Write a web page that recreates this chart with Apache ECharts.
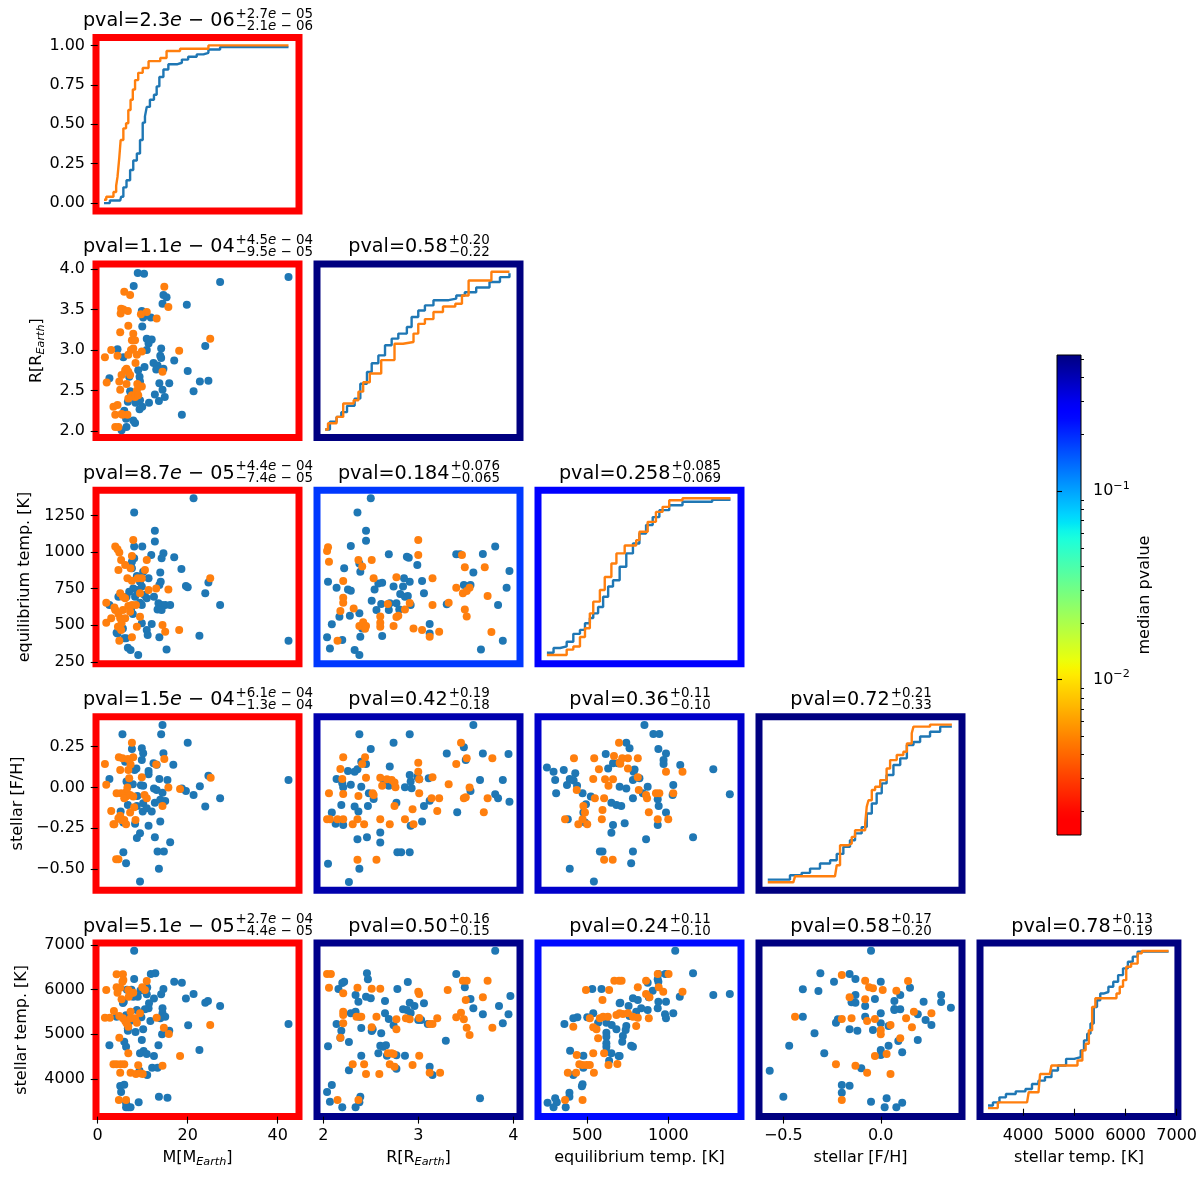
<!DOCTYPE html>
<html><head><meta charset="utf-8">
<script src="https://cdn.jsdelivr.net/npm/echarts@6/dist/echarts.min.js"></script>
<style>html,body{margin:0;padding:0;background:#fff}#c{width:1200px;height:1178px}</style>
</head><body><div id="c"></div>
<script>
// ---------------- DATA ----------------
const varNamesX = ['M[M{sub|Earth}]', 'R[R{sub|Earth}]', 'equilibrium temp. [K]', 'stellar [F/H]', 'stellar temp. [K]'];
const varNamesY = ['', 'R[R{sub|Earth}]', 'equilibrium temp. [K]', 'stellar [F/H]', 'stellar temp. [K]'];
const xTickValues = [[0,20,40],[2,3,4],[500,1000],[-0.5,0],[4000,5000,6000,7000]];
const yTickValues = [[0,0.25,0.5,0.75,1],[2,2.5,3,3.5,4],[250,500,750,1000,1250],[-0.5,-0.25,0,0.25],[4000,5000,6000,7000]];
const cbMajorTicks = [0.01, 0.1];
const cbMinorTicks = [0.002,0.003,0.004,0.005,0.006,0.007,0.008,0.009,0.02,0.03,0.04,0.05,0.06,0.07,0.08,0.09,0.2,0.3,0.4,0.5];

// panels in row-major order of the lower triangle
const panelPvals = [2.3e-6, 1.1e-4, 0.58, 8.7e-5, 0.184, 0.258, 1.5e-4, 0.42, 0.36, 0.72, 5.1e-5, 0.50, 0.24, 0.58, 0.78];
const panelMain = ['2.3e − 06','1.1e − 04','0.58','8.7e − 05','0.184','0.258','1.5e − 04','0.42','0.36','0.72','5.1e − 05','0.50','0.24','0.58','0.78'];
const panelSup = ['+2.7e − 05','+4.5e − 04','+0.20','+4.4e − 04','+0.076','+0.085','+6.1e − 04','+0.19','+0.11','+0.21','+2.7e − 04','+0.16','+0.11','+0.17','+0.13'];
const panelSub = ['−2.1e − 06','−9.5e − 05','−0.22','−7.4e − 05','−0.065','−0.069','−1.3e − 04','−0.18','−0.10','−0.33','−4.4e − 05','−0.15','−0.10','−0.20','−0.19'];

// CDFs (x, cumulative fraction)
const cdfMassBlue = [[1.4,0],[2.7,0.017],[5.0,0.017],[5.2,0.04],[5.7,0.10],[6.4,0.145],[7.2,0.21],[7.9,0.27],[8.7,0.315],[9.4,0.40],[10.0,0.51],[10.5,0.55],[10.9,0.61],[11.6,0.655],[12.5,0.687],[13.1,0.74],[13.7,0.80],[14.6,0.847],[15.7,0.88],[17.6,0.89],[18.7,0.91],[20.1,0.928],[22.0,0.943],[23.5,0.953],[24.6,0.974],[27.2,0.989],[42.4,0.989]];
const cdfMassOrange = [[1.4,0.021],[1.9,0.04],[2.7,0.04],[3.5,0.07],[4.1,0.11],[4.4,0.166],[4.8,0.29],[5.1,0.40],[5.7,0.474],[6.3,0.506],[6.8,0.59],[7.3,0.655],[7.8,0.72],[8.3,0.78],[9.0,0.826],[10.0,0.857],[11.3,0.90],[13.9,0.92],[15.3,0.964],[18.3,0.979],[24.6,1.0],[42.4,1.0]];
const cdfRadiusBlue = [[2.02,0],[2.07,0.05],[2.14,0.08],[2.19,0.11],[2.25,0.15],[2.33,0.196],[2.39,0.29],[2.46,0.365],[2.51,0.42],[2.58,0.47],[2.65,0.534],[2.72,0.576],[2.79,0.608],[2.88,0.65],[2.93,0.713],[3.0,0.755],[3.07,0.787],[3.16,0.82],[3.32,0.83],[3.40,0.85],[3.49,0.87],[3.61,0.90],[3.75,0.935],[3.86,0.966],[3.96,0.99]];
const cdfRadiusOrange = [[2.02,0],[2.05,0.04],[2.14,0.08],[2.21,0.165],[2.32,0.186],[2.37,0.24],[2.42,0.30],[2.49,0.355],[2.61,0.44],[2.75,0.544],[2.84,0.555],[2.95,0.608],[3.0,0.67],[3.07,0.70],[3.16,0.745],[3.26,0.78],[3.39,0.797],[3.46,0.85],[3.53,0.945],[3.67,0.945],[3.77,1.0],[3.96,1.0]];
const cdfTeqBlue = [[251,0.02],[292,0.05],[333,0.06],[373,0.09],[414,0.14],[455,0.165],[486,0.207],[516,0.24],[537,0.27],[567,0.31],[598,0.375],[629,0.44],[659,0.48],[700,0.565],[741,0.65],[782,0.713],[822,0.776],[863,0.83],[904,0.88],[945,0.924],[1006,0.955],[1088,0.977],[1271,0.99],[1384,0.99]];
const cdfTeqOrange = [[251,0.006],[353,0.006],[373,0.04],[414,0.06],[455,0.12],[486,0.175],[516,0.27],[537,0.344],[578,0.418],[608,0.50],[649,0.586],[680,0.65],[731,0.70],[782,0.70],[802,0.734],[822,0.787],[873,0.85],[924,0.913],[965,0.945],[1006,0.987],[1088,1.0],[1384,1.0]];
const cdfFehBlue = [[-0.58,0.017],[-0.5,0.017],[-0.466,0.045],[-0.406,0.06],[-0.363,0.087],[-0.312,0.119],[-0.26,0.14],[-0.226,0.18],[-0.192,0.225],[-0.158,0.267],[-0.132,0.31],[-0.098,0.35],[-0.072,0.436],[-0.046,0.50],[-0.021,0.564],[0.005,0.627],[0.03,0.68],[0.065,0.744],[0.1,0.786],[0.134,0.87],[0.168,0.89],[0.202,0.924],[0.253,0.955],[0.305,0.987],[0.365,0.99]];
const cdfFehOrange = [[-0.58,0],[-0.449,0],[-0.44,0.038],[-0.235,0.038],[-0.226,0.108],[-0.209,0.235],[-0.166,0.246],[-0.149,0.288],[-0.132,0.33],[-0.106,0.33],[-0.08,0.373],[-0.072,0.479],[-0.063,0.52],[-0.046,0.585],[-0.029,0.606],[-0.003,0.648],[0.03,0.722],[0.048,0.775],[0.082,0.807],[0.116,0.828],[0.134,0.88],[0.159,0.945],[0.168,0.987],[0.253,1.0],[0.365,1.0]];
const cdfTeffBlue = [[3313,0.02],[3409,0.04],[3536,0.072],[3663,0.093],[3854,0.11],[4045,0.125],[4172,0.157],[4299,0.178],[4426,0.20],[4553,0.242],[4680,0.274],[4839,0.316],[4998,0.327],[5125,0.37],[5189,0.433],[5252,0.476],[5316,0.54],[5380,0.645],[5443,0.688],[5507,0.73],[5570,0.74],[5666,0.773],[5761,0.805],[5856,0.847],[5952,0.89],[6047,0.932],[6142,0.964],[6238,0.996],[6842,0.996]];
const cdfTeffOrange = [[3313,0.004],[3504,0.004],[3504,0.04],[4076,0.04],[4108,0.104],[4299,0.104],[4331,0.22],[4521,0.22],[4553,0.274],[4934,0.274],[5062,0.306],[5157,0.37],[5221,0.412],[5284,0.497],[5348,0.645],[5411,0.70],[5697,0.70],[5824,0.73],[5888,0.773],[5952,0.815],[6015,0.90],[6110,0.92],[6238,0.985],[6320,1.0],[6842,1.0]];

// scatter panels [x, y]
const massRadiusBlue = [[8.9,3.95],[10.3,3.94],[8.0,3.79],[27.2,3.84],[42.4,3.90],[14.6,3.68],[15.3,3.65],[14.4,3.57],[19.8,3.56],[9.8,3.48],[10.1,3.40],[11.8,3.40],[9.9,3.29],[10.9,3.14],[12.0,3.13],[11.3,3.08],[14.1,3.02],[23.9,3.05],[4.4,3.01],[5.7,2.91],[10.9,3.00],[13.9,2.93],[14.1,2.90],[17.0,2.87],[12.4,2.84],[13.3,2.81],[10.4,2.79],[9.0,2.75],[13.0,2.76],[14.6,2.77],[20.0,2.74],[2.6,2.65],[7.0,2.67],[9.3,2.67],[9.4,2.61],[13.7,2.59],[15.9,2.59],[22.7,2.61],[24.6,2.62],[21.3,2.49],[14.4,2.51],[12.7,2.45],[14.9,2.42],[13.6,2.37],[7.2,2.49],[7.4,2.43],[6.7,2.36],[8.4,2.35],[9.4,2.38],[9.9,2.30],[9.3,2.27],[11.4,2.35],[18.7,2.20],[5.9,2.25],[6.3,2.15],[7.9,2.13],[8.3,2.10],[6.4,2.05],[5.3,2.01]];
const massRadiusOrange = [[1.6,2.91],[2.0,2.60],[3.0,3.00],[4.4,2.93],[3.5,2.30],[4.4,2.32],[3.9,2.20],[4.6,2.05],[3.9,2.05],[5.3,2.21],[5.9,3.72],[7.2,3.68],[5.2,3.51],[5.7,3.50],[6.7,3.48],[5.1,3.45],[5.0,3.22],[6.8,3.30],[7.9,3.20],[7.6,3.12],[8.3,3.12],[7.9,3.02],[7.4,3.00],[6.8,2.94],[8.7,2.94],[8.4,2.84],[6.4,2.77],[6.1,2.75],[6.8,2.73],[5.3,2.69],[7.2,2.69],[4.8,2.61],[6.4,2.58],[8.8,2.58],[5.0,2.51],[8.7,2.50],[7.6,2.44],[8.3,2.42],[9.0,2.44],[9.8,2.55],[6.8,2.40],[10.9,3.47],[9.6,3.44],[13.1,3.39],[14.8,3.78],[15.7,3.53],[14.4,2.73],[18.1,2.99],[25.0,3.14],[9.8,2.98],[6.6,2.20],[5.5,2.20]];
const massTeqBlue = [[21.3,1369],[8.1,1271],[12.7,1147],[12.7,1072],[8.1,1038],[9.9,1038],[11.9,981],[14.6,992],[14.2,958],[17.0,965],[18.6,885],[8.1,958],[7.6,935],[7.6,889],[10.1,866],[8.7,837],[11.3,821],[9.4,798],[13.9,860],[14.0,798],[13.7,775],[19.6,768],[20.0,759],[24.6,793],[23.9,718],[27.2,638],[7.9,752],[8.3,695],[8.7,741],[7.0,729],[6.4,695],[9.8,764],[10.4,707],[10.9,684],[12.5,695],[13.5,650],[14.2,638],[15.0,638],[16.1,638],[13.3,608],[14.2,604],[9.4,654],[9.8,638],[7.4,608],[7.8,577],[9.8,513],[12.0,508],[10.9,467],[11.1,433],[13.7,417],[15.3,334],[22.6,428],[42.4,394],[2.6,638],[4.2,449],[4.4,444],[6.3,410],[6.7,346],[7.3,330],[9.0,296],[5.6,478],[5.9,410],[4.6,695]];
const massTeqOrange = [[1.9,654],[1.9,517],[3.0,547],[3.7,622],[3.9,1038],[4.4,1019],[4.8,997],[5.2,946],[4.6,878],[6.1,912],[7.6,974],[7.3,889],[6.6,821],[7.6,805],[5.0,718],[5.6,695],[6.1,684],[5.6,604],[6.8,631],[7.6,638],[7.2,592],[8.5,638],[8.9,821],[9.8,821],[9.4,718],[10.9,946],[10.5,878],[11.3,741],[13.0,752],[15.7,745],[25.0,821],[3.9,604],[4.6,577],[5.0,547],[4.5,490],[5.2,467],[4.8,394],[7.6,417],[8.7,490],[9.4,558],[14.4,501],[15.0,455],[18.1,467],[6.1,547],[7.9,1083],[5.3,513]];
const radiusTeqBlue = [[2.50,1369],[2.36,1271],[2.45,1147],[2.45,1077],[2.29,1042],[2.69,985],[2.88,969],[2.90,962],[2.99,912],[3.04,803],[3.06,718],[2.91,798],[2.85,821],[2.84,764],[2.74,764],[2.62,791],[2.58,786],[2.54,745],[2.51,667],[2.61,645],[2.70,650],[2.77,650],[2.81,713],[2.86,695],[2.89,700],[2.92,638],[2.80,608],[2.69,604],[2.56,604],[2.38,581],[2.28,565],[2.17,558],[2.09,506],[2.14,757],[2.26,745],[2.22,889],[2.39,866],[2.38,923],[2.05,798],[2.04,417],[2.07,341],[2.20,399],[2.33,330],[2.38,296],[2.39,421],[2.41,478],[2.62,426],[3.12,508],[3.12,444],[3.30,643],[3.40,985],[3.44,985],[3.48,775],[3.51,767],[3.55,775],[3.58,860],[3.68,987],[3.81,1038],[3.96,871],[3.93,757],[3.84,638],[3.89,394],[3.66,334],[2.29,735]];
const radiusTeqOrange = [[2.04,1008],[2.05,1033],[2.06,935],[2.21,803],[2.21,688],[2.21,654],[2.18,597],[2.32,615],[2.37,946],[2.41,901],[2.51,946],[2.53,821],[2.38,494],[2.42,521],[2.44,476],[2.45,494],[2.60,560],[2.60,517],[2.60,490],[2.74,494],[2.68,645],[2.77,828],[2.77,556],[2.79,565],[2.86,608],[2.91,652],[3.00,1083],[3.00,981],[2.95,478],[3.04,467],[3.12,421],[3.15,638],[3.15,821],[3.22,456],[3.32,654],[3.40,757],[3.46,981],[3.49,896],[3.47,718],[3.51,734],[3.54,757],[3.49,608],[3.51,560],[3.70,896],[3.73,700],[3.77,453],[2.15,394]];
const massFehBlue = [[14.4,0.383],[5.5,0.326],[14.1,0.326],[20.0,0.274],[7.6,0.236],[9.8,0.240],[10.1,0.210],[14.6,0.210],[9.8,0.168],[12.4,0.148],[16.8,0.140],[13.1,0.140],[6.1,0.158],[8.2,0.107],[8.6,0.117],[11.3,0.101],[11.3,0.081],[2.6,0.052],[6.4,0.036],[7.8,0.020],[9.6,0.014],[10.1,0.010],[13.7,0.052],[15.5,0.046],[12.5,-0.006],[13.1,-0.016],[14.4,-0.032],[15.0,-0.083],[18.7,-0.006],[19.6,-0.021],[21.3,-0.046],[22.7,0.008],[24.6,0.072],[27.2,-0.066],[23.9,-0.117],[42.4,0.046],[6.7,-0.107],[8.7,-0.113],[8.8,-0.052],[10.1,-0.097],[10.0,-0.148],[10.9,-0.128],[12.0,-0.148],[12.7,-0.093],[13.9,-0.076],[5.1,-0.148],[5.7,-0.215],[8.3,-0.223],[9.4,-0.280],[8.7,-0.310],[11.3,-0.234],[12.7,-0.305],[13.9,-0.209],[16.1,-0.336],[13.3,-0.393],[14.7,-0.393],[5.7,-0.397],[6.3,-0.464],[13.6,-0.499],[9.4,-0.576]];
const massFehOrange = [[1.6,0.144],[1.9,0.016],[3.0,-0.144],[3.5,-0.226],[4.7,0.185],[5.0,0.107],[5.5,0.179],[6.7,0.174],[7.6,0.274],[7.9,0.185],[6.8,0.107],[7.3,0.141],[7.0,0.056],[6.6,0.0],[6.4,-0.026],[6.3,-0.056],[5.2,-0.036],[4.2,-0.036],[5.9,-0.066],[7.2,-0.046],[7.9,-0.056],[8.1,-0.121],[7.2,-0.154],[5.0,-0.174],[4.6,-0.189],[5.3,-0.199],[5.9,-0.199],[3.7,-0.226],[6.3,-0.226],[8.4,-0.199],[9.8,0.062],[10.4,-0.046],[10.9,-0.066],[13.0,0.141],[14.8,0.174],[15.7,0.0],[14.4,-0.113],[18.3,-0.009],[25.1,0.060],[4.6,-0.440],[4.1,-0.440]];
const radiusFehBlue = [[2.38,0.326],[2.91,0.326],[3.58,0.383],[2.74,0.274],[2.50,0.236],[2.40,0.158],[2.45,0.144],[2.36,0.111],[2.33,0.097],[2.26,0.101],[2.14,0.052],[2.20,0.026],[2.21,0.001],[2.29,0.016],[2.40,0.005],[2.48,-0.036],[2.47,-0.113],[2.33,-0.117],[2.37,-0.148],[2.19,-0.107],[2.09,-0.154],[2.13,-0.223],[2.21,-0.230],[2.53,-0.07],[2.60,-0.276],[2.60,-0.338],[2.70,0.128],[2.64,0.034],[2.69,0.010],[2.77,-0.093],[2.86,0.001],[2.91,0.077],[2.92,0.036],[2.93,-0.005],[2.99,0.066],[3.01,0.05],[3.11,0.056],[3.06,-0.113],[3.12,-0.081],[3.04,-0.209],[2.92,-0.234],[2.78,-0.397],[2.82,-0.397],[2.91,-0.397],[2.46,-0.305],[2.36,-0.317],[2.05,-0.468],[2.38,-0.499],[2.27,-0.580],[3.30,0.209],[3.48,0.246],[3.50,0.168],[3.68,0.209],[3.95,0.205],[3.41,-0.152],[3.65,0.046],[3.55,-0.021],[3.81,-0.042],[3.84,-0.066],[3.89,0.046],[3.96,-0.087]];
const radiusFehOrange = [[2.04,-0.195],[2.07,-0.195],[2.06,-0.036],[2.15,-0.195],[2.18,0.113],[2.20,0.052],[2.21,-0.040],[2.21,0.185],[2.21,-0.195],[2.31,-0.226],[2.36,-0.195],[2.36,-0.444],[2.37,-0.052],[2.41,0.144],[2.44,0.185],[2.45,0.060],[2.43,-0.226],[2.52,-0.036],[2.53,-0.046],[2.56,-0.444],[2.60,0.060],[2.62,0.010],[2.60,-0.195],[2.67,0.050],[2.70,-0.226],[2.72,0.046],[2.75,0.030],[2.76,0.001],[2.75,-0.113],[2.86,-0.195],[2.95,-0.226],[2.94,-0.134],[3.00,0.152],[3.00,0.097],[3.01,0.050],[3.01,-0.036],[3.14,-0.066],[3.15,0.062],[3.20,-0.144],[3.22,-0.066],[3.40,0.144],[3.45,0.274],[3.51,0.179],[3.48,-0.066],[3.50,-0.060],[3.54,0.000],[3.69,-0.152],[3.73,-0.066],[3.78,0.179],[3.32,0.019]];
const teqFehBlue = [[853,0.383],[908,0.328],[945,0.328],[939,0.236],[986,0.209],[971,0.168],[971,0.144],[1074,0.138],[1278,0.111],[1380,-0.042],[741,0.274],[761,0.240],[614,0.205],[659,0.148],[629,0.117],[690,0.148],[786,0.097],[782,0.046],[822,0.056],[251,0.123],[292,0.097],[302,0.046],[308,-0.036],[355,0.107],[375,0.015],[392,0.052],[426,0.087],[416,0.042],[437,0.010],[471,-0.036],[522,-0.056],[476,-0.154],[492,-0.103],[486,-0.215],[380,-0.195],[392,-0.499],[541,-0.576],[649,-0.093],[680,-0.107],[710,-0.113],[700,0.005],[741,-0.006],[792,0.11],[873,0.005],[935,-0.072],[941,-0.113],[935,-0.230],[986,-0.154],[1031,0.015],[1027,-0.046],[843,-0.036],[782,-0.066],[659,-0.230],[649,-0.277],[578,-0.393],[594,-0.393],[782,-0.393],[771,-0.464],[731,-0.219],[863,-0.317],[1153,-0.305]];
const teqFehOrange = [[363,-0.195],[418,0.179],[435,-0.016],[445,-0.226],[471,-0.195],[476,-0.113],[500,-0.226],[486,-0.154],[537,0.052],[547,-0.066],[590,-0.195],[594,-0.138],[543,0.179],[572,0.111],[604,-0.066],[610,0.050],[631,0.010],[659,0.050],[665,0.193],[700,0.152],[696,0.274],[704,0.146],[716,0.179],[751,0.179],[751,0.117],[812,0.179],[812,0.062],[818,-0.016],[863,-0.046],[869,-0.066],[880,-0.152],[924,-0.036],[945,-0.036],[986,0.097],[1031,-0.036],[1000,-0.195],[1088,0.097],[604,-0.444],[657,-0.444],[935,-0.195]];
const massTeffBlue = [[8.1,6873],[8.1,6239],[11.8,6351],[12.8,6366],[17.0,6179],[18.7,6157],[21.3,5903],[19.6,5800],[14.6,6015],[14.1,5896],[10.9,5896],[11.4,5694],[11.3,5582],[14.4,5582],[14.4,5470],[15.0,5396],[13.9,5358],[23.9,5709],[24.5,5746],[27.2,5634],[42.4,5231],[20.1,5201],[7.9,5843],[8.9,5843],[5.8,5731],[6.3,5425],[8.7,5545],[9.7,5380],[10.1,5112],[6.7,5134],[6.7,5082],[5.9,4836],[6.3,4724],[9.8,4873],[10.2,4627],[9.4,4575],[10.9,4560],[13.5,4754],[12.5,4515],[15.9,5082],[14.3,5000],[22.6,4649],[2.6,4754],[12.1,4254],[13.3,4254],[11.0,4090],[9.3,4187],[5.0,3843],[5.9,3873],[5.2,3709],[6.3,3463],[6.8,3366],[6.3,3366],[7.3,3366],[9.1,3478],[13.6,3604],[15.5,3582],[4.2,5396],[7.5,6000],[9.5,5980],[10.5,5560],[11.7,5300],[7.2,5300],[5.6,5700],[8.4,5050],[12.5,5800],[11.0,6050],[6.5,6000]];
const massTeffOrange = [[4.2,6343],[5.6,6343],[5.7,6216],[5.5,6180],[1.9,5992],[4.2,6052],[5.0,6045],[4.4,5933],[6.8,5992],[7.4,5920],[7.9,5933],[10.5,5992],[10.9,6194],[9.9,6052],[5.3,5784],[6.9,5843],[1.6,5373],[2.7,5373],[3.6,5522],[4.8,5410],[5.6,5358],[6.1,5300],[7.3,5507],[7.3,5358],[6.8,5170],[6.4,5246],[8.3,5358],[8.7,5261],[9.4,5470],[13.1,5373],[14.7,5149],[15.8,5007],[25.0,5209],[18.3,4515],[4.8,4925],[6.8,4575],[3.5,4328],[4.2,4328],[5.1,4328],[5.9,4328],[5.0,4142],[7.3,4142],[8.5,4112],[9.4,4127],[10.0,4112],[9.0,4306],[14.4,4298],[4.7,3530],[6.3,3530]];
const radiusTeffBlue = [[3.81,6873],[3.40,6351],[3.49,6052],[3.55,5791],[3.58,5582],[3.68,5448],[3.85,5634],[3.95,5448],[3.97,5858],[3.89,5246],[3.65,3567],[3.29,4858],[2.46,6366],[2.47,6231],[2.22,6179],[2.20,6150],[2.16,6015],[2.14,5231],[2.19,5082],[2.18,4925],[2.27,4828],[2.05,4731],[2.29,5470],[2.34,5881],[2.37,5731],[2.45,5843],[2.50,5806],[2.52,5112],[2.51,5075],[2.40,5142],[2.34,5507],[2.38,5396],[2.65,5746],[2.65,5470],[2.69,5343],[2.61,5023],[2.60,4746],[2.63,4724],[2.58,4575],[2.66,4754],[2.67,4522],[2.78,6015],[2.74,5201],[2.84,5560],[2.88,5545],[2.91,5709],[2.89,6172],[2.92,5478],[2.96,5634],[3.00,5321],[3.03,5321],[3.06,5694],[3.10,5231],[3.12,4276],[3.15,4090],[2.77,4231],[2.77,4530],[2.86,4522],[2.27,4194],[2.40,4522],[2.04,3709],[2.09,3866],[2.07,3492],[2.20,3366],[2.34,3366],[2.39,3604],[2.38,3478]];
const radiusTeffOrange = [[2.04,6351],[2.08,6351],[2.06,6045],[2.21,5918],[2.36,6045],[2.51,6023],[2.60,6023],[2.21,5507],[2.21,5433],[2.21,5246],[2.18,4925],[2.35,5396],[2.40,5396],[2.56,5396],[2.51,5157],[2.77,5112],[2.77,5336],[2.87,5358],[3.00,5955],[3.01,5903],[3.01,5366],[2.91,5336],[3.12,5231],[3.15,5231],[3.20,5358],[3.31,5992],[3.40,5381],[3.47,6201],[3.51,6201],[3.73,6201],[3.50,5769],[3.68,5828],[3.48,5336],[3.51,5150],[3.54,4985],[3.78,5150],[3.45,5485],[2.68,4575],[2.72,4575],[2.74,4560],[2.70,4328],[2.75,4276],[2.94,4313],[3.01,4522],[2.31,4328],[2.43,4328],[2.45,4112],[2.59,4112],[3.12,4142],[3.23,4142],[2.15,3530],[2.37,3530]];
const teqTeffBlue = [[1043,6873],[1153,6366],[982,6351],[939,6351],[935,6231],[939,6179],[1278,5881],[1380,5903],[1071,5843],[986,5731],[939,5731],[880,5828],[904,5977],[873,6157],[531,6015],[588,6015],[704,5709],[782,5806],[812,5769],[755,5634],[833,5582],[873,5545],[935,5582],[980,5448],[986,5358],[1031,5470],[802,5507],[761,5410],[741,5187],[737,5097],[720,4963],[771,4746],[782,4724],[716,4836],[618,5037],[618,4948],[618,4799],[618,4724],[618,4612],[649,4575],[694,4515],[700,4515],[651,5209],[680,5112],[700,5694],[537,5470],[500,5381],[439,5381],[414,5358],[359,5231],[394,4634],[476,4522],[476,4254],[471,3881],[467,3836],[414,4090],[390,3694],[390,3604],[302,3567],[312,3478],[255,3470],[292,3366],[367,3366],[635,4410],[567,5261],[618,5261]];
const teqTeffOrange = [[935,6351],[1002,6351],[667,6201],[696,6201],[712,6201],[863,6201],[492,5992],[635,5992],[812,6052],[941,6052],[863,5903],[884,5828],[969,5955],[1088,5955],[594,5769],[414,5172],[516,5358],[537,5157],[578,5358],[598,5396],[627,5396],[680,5433],[700,5470],[720,5455],[751,5470],[782,5396],[812,5373],[880,5358],[802,5187],[557,5112],[567,4910],[537,4575],[604,4575],[631,4313],[686,4336],[435,4537],[451,4328],[471,4313],[496,4313],[516,4313],[380,4142],[431,4142],[541,4142],[363,3530],[471,3530]];
const fehTeffBlue = [[-0.05,6873],[-0.31,6366],[-0.24,6179],[-0.16,6351],[-0.13,6239],[-0.40,6007],[-0.32,5970],[0.00,6179],[0.15,6045],[-0.13,5881],[-0.15,5716],[-0.13,5709],[-0.03,5791],[0.10,5881],[0.07,5746],[0.07,5567],[-0.08,5634],[0.00,5470],[0.10,5560],[0.07,5545],[-0.08,5396],[-0.23,5261],[-0.22,5336],[-0.40,5396],[-0.16,5112],[-0.12,5082],[-0.04,5097],[0.00,5246],[0.04,5187],[0.19,5448],[0.23,5321],[0.26,5209],[0.22,5731],[0.31,5881],[0.31,5724],[0.36,5597],[-0.34,5023],[-0.47,4746],[-0.29,4575],[0.00,4649],[0.00,4537],[0.11,4597],[0.04,4746],[0.09,4851],[0.19,4873],[-0.10,4239],[-0.57,4187],[-0.50,3604],[-0.20,3866],[-0.16,3851],[-0.20,3694],[-0.05,3492],[0.02,3366],[0.03,3567],[0.08,3366],[0.11,3470]];
const fehTeffOrange = [[-0.20,6328],[-0.08,6201],[-0.06,6052],[-0.04,6030],[0.01,5992],[0.08,5977],[0.14,6194],[-0.16,5828],[-0.08,5784],[-0.44,5396],[-0.20,5343],[-0.15,5358],[-0.07,5298],[-0.03,5343],[0.05,5209],[0.13,5358],[0.16,5157],[0.17,5507],[0.26,5470],[0.00,5097],[0.00,5000],[0.10,4910],[-0.03,4515],[0.03,4560],[-0.23,4328],[-0.13,4298],[-0.07,4142],[0.05,4112],[-0.20,3530]];

// ---------------- LAYOUT / STYLE ----------------
const FONT = 'DejaVu Sans';
const BLUE = '#1f77b4', ORANGE = '#ff7f0e';
const L0 = 96, CW = 221, PW = 203, T0 = 37.5, RH = 226.4, PH = 173.5;
const xRanges = [[-0.38,44.73],[1.934,4.071],[196,1449],[-0.625,0.417],[3156,7025]];
const yRanges = [[-0.05,1.05],[1.921,4.063],[236,1423],[-0.630,0.434],[3158,7043]];
const xDec = [0,0,0,1,0];
const yDec = [2,1,0,2,0];
const yNameGap = [0,49,61,68,64];
const CB_MIN = 0.0015, CB_MAX = 0.528;
const CB = {left:1057, top:355, width:24, height:480};

const diagData = [[cdfMassBlue,cdfMassOrange],[cdfRadiusBlue,cdfRadiusOrange],[cdfTeqBlue,cdfTeqOrange],[cdfFehBlue,cdfFehOrange],[cdfTeffBlue,cdfTeffOrange]];
const offData = {
  '1,0':[massRadiusBlue,massRadiusOrange],
  '2,0':[massTeqBlue,massTeqOrange], '2,1':[radiusTeqBlue,radiusTeqOrange],
  '3,0':[massFehBlue,massFehOrange], '3,1':[radiusFehBlue,radiusFehOrange], '3,2':[teqFehBlue,teqFehOrange],
  '4,0':[massTeffBlue,massTeffOrange], '4,1':[radiusTeffBlue,radiusTeffOrange], '4,2':[teqTeffBlue,teqTeffOrange], '4,3':[fehTeffBlue,fehTeffOrange]
};

// jet-like colormap, navy (top) -> red (bottom)
const JR=[[0,0],[0.35,0],[0.66,1],[1,1]], JG=[[0,0],[0.125,0],[0.375,1],[0.64,1],[0.96,0],[1,0]], JB=[[0,0.5],[0.11,1],[0.34,1],[0.65,0],[1,0]];
function seg(s, v){ for (let i=1;i<s.length;i++){ if (v<=s[i][0]){ const a=s[i-1], b=s[i]; return a[1]+(b[1]-a[1])*(v-a[0])/(b[0]-a[0]); } } return s[s.length-1][1]; }
function jet(t){ const v=Math.max(0,Math.min(1,t)); const c=[seg(JR,v),seg(JG,v),seg(JB,v)].map(x=>Math.round(x*255)); return 'rgb('+c.join(',')+')'; }
function cmap(p){ const t=(Math.log10(CB_MAX)-Math.log10(p))/(Math.log10(CB_MAX)-Math.log10(CB_MIN)); return jet(Math.max(0,Math.min(1,t))); }
function fmt(v,d){ return v.toFixed(d).replace('-', '\u2212'); }

const richName = { sub: { fontSize: 11.2, fontStyle: 'italic', fontFamily: FONT, lineHeight: 10, verticalAlign: 'bottom', color:'#000' } };
const nameStyle = { fontSize: 16, fontFamily: FONT, color: '#000', lineHeight: 20, rich: richName };
const labelStyle = { fontSize: 16, fontFamily: FONT, color: '#000' };

const grids=[], xAxes=[], yAxes=[], series=[], graphics=[];
const ctx = document.createElement('canvas').getContext('2d');
function tw(t, it, s){ ctx.font = (it?'italic ':'') + s + 'px "' + FONT + '"'; return ctx.measureText(t).width; }
function runs(str){ const out=[]; str.split('e').forEach((p,i)=>{ if(i>0) out.push({t:'e',it:true}); if(p) out.push({t:p,it:false}); }); return out; }
function runsWidth(rs, s){ return rs.reduce((a,r)=>a+tw(r.t,r.it,s),0); }
function drawRuns(rs, x, baseline, s){
  let cx=x;
  rs.forEach(r=>{
    graphics.push({type:'text', x:cx, y:baseline-0.346*s, silent:true,
      style:{text:r.t, font:(r.it?'italic ':'')+s+'px "'+FONT+'"', fill:'#000', textAlign:'left', textVerticalAlign:'middle', align:'left', verticalAlign:'middle'}});
    cx+=tw(r.t,r.it,s);
  });
}
const TS=19.2, SS=13.4;

let k=0;
for (let r=0;r<5;r++){
  for (let c=0;c<=r;c++){
    const left=L0+c*CW, top=T0+r*RH;
    grids.push({left, top, width:PW, height:PH, show:true, backgroundColor:'#fff', borderColor:cmap(panelPvals[k]), borderWidth:7});
    const diag = r===c;
    const showX = r===4, showY = (c===0 && r>0) || (r===0);
    xAxes.push({gridIndex:k, type:'value', min:xRanges[c][0], max:xRanges[c][1],
      axisLine:{show:false}, splitLine:{show:false},
      axisTick:{show:showX, length:7, customValues:xTickValues[c], lineStyle:{color:'#000',width:1.1}},
      axisLabel:{show:showX, customValues:xTickValues[c], formatter:(v)=>fmt(v,xDec[c]), margin:11, ...labelStyle},
      name: showX ? varNamesX[c] : '', nameLocation:'middle', nameGap:31, nameTextStyle:nameStyle});
    const yr = diag ? yRanges[0] : yRanges[r];
    const yt = diag ? yTickValues[0] : yTickValues[r];
    const yd = diag ? yDec[0] : yDec[r];
    yAxes.push({gridIndex:k, type:'value', min:yr[0], max:yr[1],
      axisLine:{show:false}, splitLine:{show:false},
      axisTick:{show:showY, length:7, customValues:yt, lineStyle:{color:'#000',width:1.1}},
      axisLabel:{show:showY, customValues:yt, formatter:(v)=>fmt(v,yd), margin:11, ...labelStyle},
      name: (c===0 && r>0) ? varNamesY[r] : '', nameLocation:'middle', nameGap:yNameGap[r], nameRotate:90, nameTextStyle:nameStyle});
    if (diag){
      const [b,o]=diagData[r];
      series.push({type:'line', xAxisIndex:k, yAxisIndex:k, data:b, step:'end', showSymbol:false, symbol:'none', silent:true, lineStyle:{color:BLUE,width:2.4}, itemStyle:{color:BLUE}, z:3});
      series.push({type:'line', xAxisIndex:k, yAxisIndex:k, data:o, step:'end', showSymbol:false, symbol:'none', silent:true, lineStyle:{color:ORANGE,width:2.4}, itemStyle:{color:ORANGE}, z:4});
    } else {
      const [b,o]=offData[r+','+c];
      series.push({type:'scatter', xAxisIndex:k, yAxisIndex:k, data:b, symbolSize:8, silent:true, itemStyle:{color:BLUE,opacity:1}, z:3});
      series.push({type:'scatter', xAxisIndex:k, yAxisIndex:k, data:o, symbolSize:8, silent:true, itemStyle:{color:ORANGE,opacity:1}, z:4});
    }
    const mainRuns=[{t:'pval=',it:false}].concat(runs(panelMain[k]));
    const supRuns=runs(panelSup[k]), subRuns=runs(panelSub[k]);
    const wMain=runsWidth(mainRuns,TS), wSup=runsWidth(supRuns,SS), wSub=runsWidth(subRuns,SS);
    const total=wMain+Math.max(wSup,wSub);
    const x0=left+PW/2-total/2;
    const subBase=top-6.7, mainBase=subBase-3.2, supBase=mainBase-8.8;
    drawRuns(mainRuns,x0,mainBase,TS);
    drawRuns(supRuns,x0+wMain+1,supBase,SS);
    drawRuns(subRuns,x0+wMain+1,subBase,SS);
    k++;
  }
}

// colorbar
grids.push({left:CB.left, top:CB.top, width:CB.width, height:CB.height, show:false});
xAxes.push({gridIndex:15, type:'value', min:0, max:1, show:false});
const lmin=Math.log10(CB_MIN), lmax=Math.log10(CB_MAX);
yAxes.push({gridIndex:15, type:'value', position:'right', min:lmin, max:lmax,
  axisLine:{show:false}, splitLine:{show:false},
  axisTick:{show:true, length:5, customValues:cbMajorTicks.map(Math.log10), lineStyle:{color:'#000',width:1.1}},
  axisLabel:{show:true, customValues:cbMajorTicks.map(Math.log10), margin:12,
    formatter:(v)=>'{b|10}{s|\u2212'+Math.round(-v)+'}',
    rich:{b:{fontSize:16,fontFamily:FONT,color:'#000',lineHeight:22}, s:{fontSize:11.2,fontFamily:FONT,color:'#000',lineHeight:10,verticalAlign:'top'}}},
  name:'median pvalue', nameLocation:'middle', nameRotate:90, nameGap:56, nameTextStyle:{fontSize:16,fontFamily:FONT,color:'#000'}});
yAxes.push({gridIndex:15, type:'value', position:'right', min:lmin, max:lmax,
  axisLine:{show:false}, splitLine:{show:false}, axisLabel:{show:false},
  axisTick:{show:true, length:3, customValues:cbMinorTicks.map(Math.log10), lineStyle:{color:'#000',width:1}}});
series.push({type:'scatter', xAxisIndex:15, yAxisIndex:15, data:[], silent:true});
series.push({type:'scatter', xAxisIndex:15, yAxisIndex:16, data:[], silent:true});
const stops=[]; for (let i=0;i<=60;i++){ stops.push({offset:i/60, color:jet(i/60)}); }
graphics.push({type:'rect', silent:true, shape:{x:CB.left, y:CB.top, width:CB.width, height:CB.height},
  style:{fill:new echarts.graphic.LinearGradient(0,0,0,1,stops), stroke:'#000', lineWidth:1}});

const chart = echarts.init(document.getElementById('c'), null, {renderer:'canvas', width:1200, height:1178});
chart.setOption({animation:false, backgroundColor:'#fff', grid:grids, xAxis:xAxes, yAxis:yAxes, series, graphic:{elements:graphics}});
</script></body></html>
